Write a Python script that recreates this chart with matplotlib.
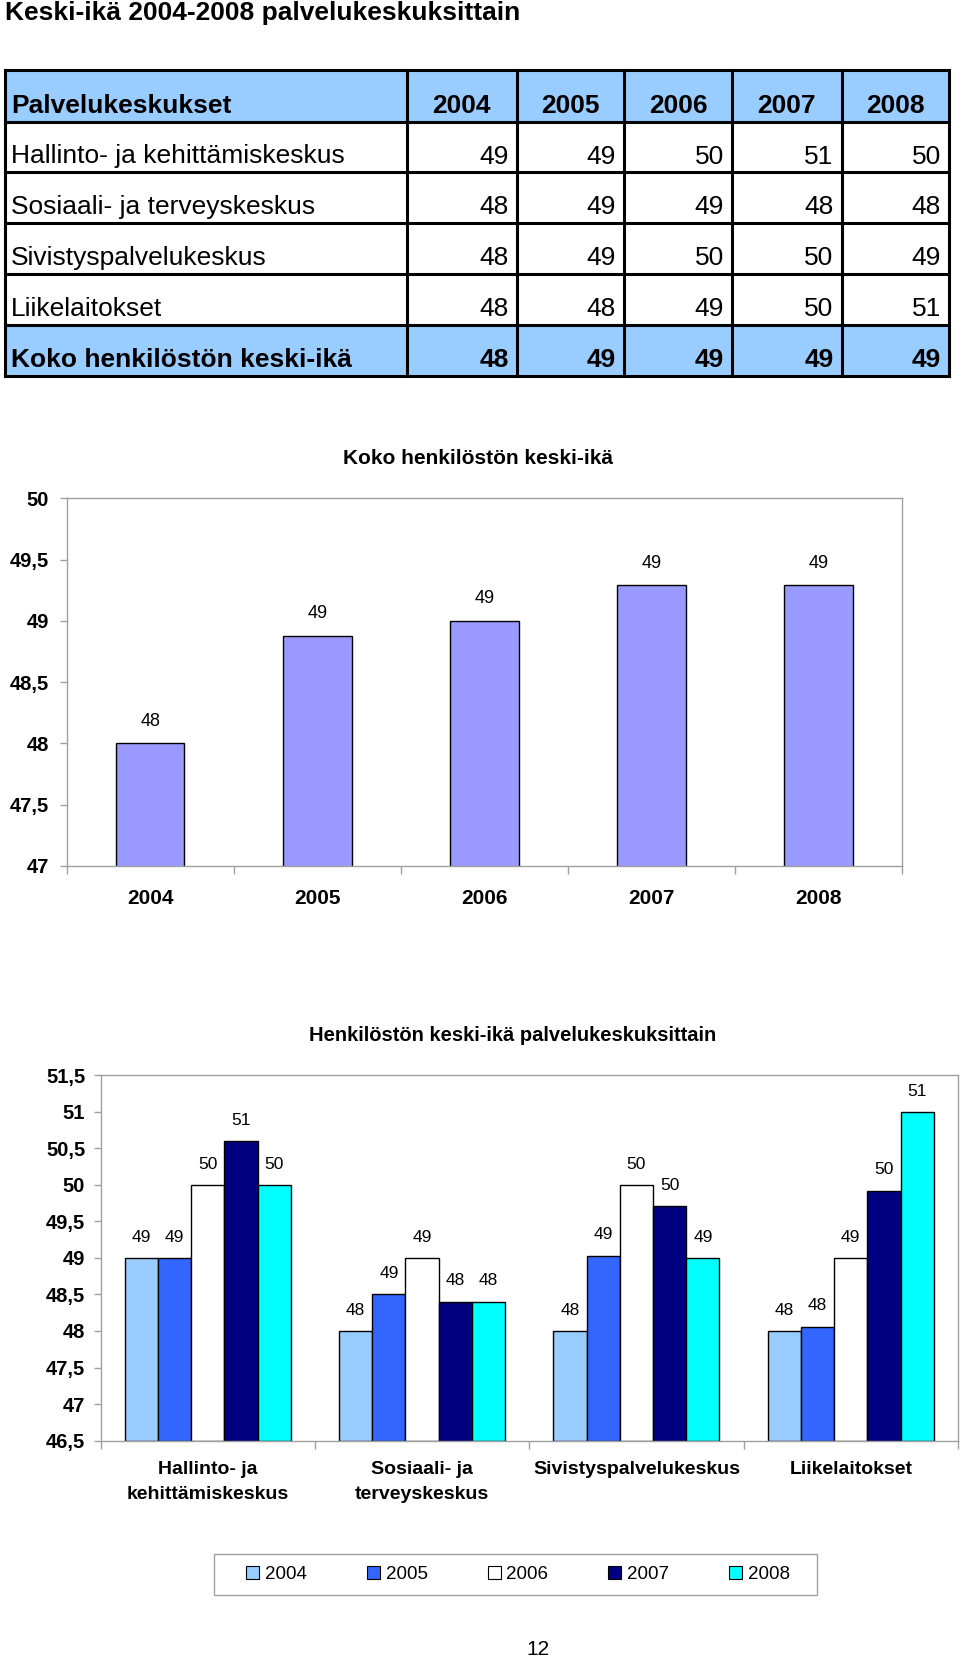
import matplotlib.pyplot as plt
import numpy as np
from matplotlib.patches import Rectangle
from matplotlib.ticker import FuncFormatter

plt.rcParams['font.family'] = ['Liberation Sans', 'DejaVu Sans']

years = ['2004', '2005', '2006', '2007', '2008']
centres = ['Hallinto- ja kehittämiskeskus', 'Sosiaali- ja terveyskeskus',
           'Sivistyspalvelukeskus', 'Liikelaitokset']
centre_ticks = ['Hallinto- ja\nkehittämiskeskus', 'Sosiaali- ja\nterveyskeskus',
                'Sivistyspalvelukeskus', 'Liikelaitokset']

# rounded ages, as printed in the table and the data labels
hallinto_round = [49, 49, 50, 51, 50]
sosiaali_round = [48, 49, 49, 48, 48]
sivistys_round = [48, 49, 50, 50, 49]
liike_round = [48, 48, 49, 50, 51]
total_round = [48, 49, 49, 49, 49]

# unrounded ages behind the bar heights
hallinto_age = [49.0, 49.0, 50.0, 50.6, 50.0]
sosiaali_age = [48.0, 48.5, 49.0, 48.4, 48.4]
sivistys_age = [48.0, 49.03, 50.0, 49.71, 49.0]
liike_age = [48.0, 48.06, 49.0, 49.92, 51.0]
total_age = [48.0, 48.88, 49.0, 49.29, 49.29]

year_colors = ['#99CCFF', '#3366FF', '#FFFFFF', '#000080', '#00FFFF']
GREY = '#A0A0A0'


def comma(v, pos):
    s = ('%g' % v)
    return s.replace('.', ',')


fig = plt.figure(figsize=(9.6, 16.6), dpi=100)
bg = fig.add_axes([0, 0, 1, 1])
bg.set_xlim(0, 960)
bg.set_ylim(1660, 0)
bg.axis('off')

bg.text(5, 13, 'Keski-ikä 2004-2008 palvelukeskuksittain', fontsize=19,
        fontweight='bold', va='center', ha='left')

# ---- table ----
col_x = [5, 407, 516.5, 624, 732, 841.5, 949]
row_y = [70, 122, 172.5, 223, 274, 325, 376]
rows = [('Palvelukeskukset', years, True)]
for name, vals in zip(centres, [hallinto_round, sosiaali_round, sivistys_round, liike_round]):
    rows.append((name, [str(v) for v in vals], False))
rows.append(('Koko henkilöstön keski-ikä', [str(v) for v in total_round], True))

for i, (name, vals, shaded) in enumerate(rows):
    y0, y1 = row_y[i], row_y[i + 1]
    if shaded:
        bg.add_patch(Rectangle((col_x[0], y0), col_x[-1] - col_x[0], y1 - y0,
                               fc='#99CCFF', ec='none', zorder=1))
    weight = 'bold' if shaded else 'normal'
    bg.text(col_x[0] + 6, y1 - 9, name, fontsize=19, fontweight=weight,
            va='baseline', ha='left', zorder=3)
    for j, v in enumerate(vals):
        if i == 0:
            bg.text((col_x[j + 1] + col_x[j + 2]) / 2, y1 - 9, v, fontsize=19,
                    fontweight=weight, va='baseline', ha='center', zorder=3)
        else:
            bg.text(col_x[j + 2] - 8, y1 - 9, v, fontsize=19, fontweight=weight,
                    va='baseline', ha='right', zorder=3)

for y in row_y:
    bg.plot([col_x[0], col_x[-1]], [y, y], color='black', lw=2.2, zorder=2)
for x in col_x:
    bg.plot([x, x], [row_y[0], row_y[-1]], color='black', lw=2.2, zorder=2)


def style_axes(ax, n_cat, ypad, xpad):
    for s in ax.spines.values():
        s.set_color(GREY)
        s.set_linewidth(1.0)
    ax.yaxis.set_major_formatter(FuncFormatter(comma))
    ax.tick_params(axis='y', colors=GREY, length=5, width=1, pad=ypad,
                   labelcolor='black', labelsize=14.5)
    for t in ax.get_yticklabels():
        t.set_fontweight('bold')
    ax.set_xlim(-0.5, n_cat - 0.5)
    ax.set_xticks(np.arange(-0.5, n_cat, 1.0), minor=True)
    ax.tick_params(axis='x', which='minor', colors=GREY, length=6, width=1)
    ax.tick_params(axis='x', which='major', length=0, pad=xpad)


# ---- chart 1 ----
ax1 = fig.add_axes([0.0695, 0.4784, 0.870, 0.2213])
x1 = np.arange(len(years))
ax1.bar(x1, total_age, width=0.41, color='#9999FF', edgecolor='black',
        linewidth=1.0, bottom=0, zorder=2)
ax1.set_ylim(47, 50)
ax1.set_yticks(np.arange(47, 50.01, 0.5))
ax1.set_xticks(x1)
ax1.set_xticklabels(years, fontsize=15, fontweight='bold')
style_axes(ax1, len(years), 8, 17)
for xi, h, lab in zip(x1, total_age, total_round):
    ax1.annotate(str(lab), (xi, h), xytext=(0, 16), textcoords='offset points',
                 ha='center', va='center', fontsize=13)
bg.text(478, 458, 'Koko henkilöstön keski-ikä', fontsize=15, fontweight='bold',
        ha='center', va='center')

# ---- chart 2 ----
ax2 = fig.add_axes([0.1047, 0.1322, 0.8932, 0.2200])
x2 = np.arange(len(centres))
bw = 0.155
by_centre = [hallinto_age, sosiaali_age, sivistys_age, liike_age]
by_centre_round = [hallinto_round, sosiaali_round, sivistys_round, liike_round]
handles = []
for j, yr in enumerate(years):
    heights = [c[j] for c in by_centre]
    labels = [c[j] for c in by_centre_round]
    ax2.bar(x2 + (j - 2) * bw, np.array(heights) - 46.5, bottom=46.5, width=bw,
            color=year_colors[j], edgecolor='black', linewidth=1.0, zorder=2)
    for xi, h, lab in zip(x2 + (j - 2) * bw, heights, labels):
        ax2.annotate(str(lab), (xi, h), xytext=(0, 15), textcoords='offset points',
                     ha='center', va='center', fontsize=12.5)
    handles.append(Rectangle((0, 0), 1, 1, fc=year_colors[j], ec='black', lw=0.8))
ax2.set_ylim(46.5, 51.5)
ax2.set_yticks(np.arange(46.5, 51.51, 0.5))
ax2.set_xticks(x2)
ax2.set_xticklabels(centre_ticks, fontsize=14, fontweight='bold', linespacing=1.6)
style_axes(ax2, len(centres), 6, 15)
bg.text(513, 1035, 'Henkilöstön keski-ikä palvelukeskuksittain', fontsize=14.5,
        fontweight='bold', ha='center', va='center')

# legend box drawn separately, entries centred inside it
bg.add_patch(Rectangle((214, 1554), 603, 41, fc='white', ec=GREY, lw=1.0))
fig.legend(handles, years, loc='center', ncol=5,
           bbox_to_anchor=(518 / 960, 1 - 1574.5 / 1660), fontsize=13.5,
           handlelength=0.7, handleheight=0.7, handletextpad=0.3,
           columnspacing=3.2, frameon=False)

bg.text(538, 1649, '12', fontsize=15, ha='center', va='center')

fig.savefig('out.png', dpi=100)
